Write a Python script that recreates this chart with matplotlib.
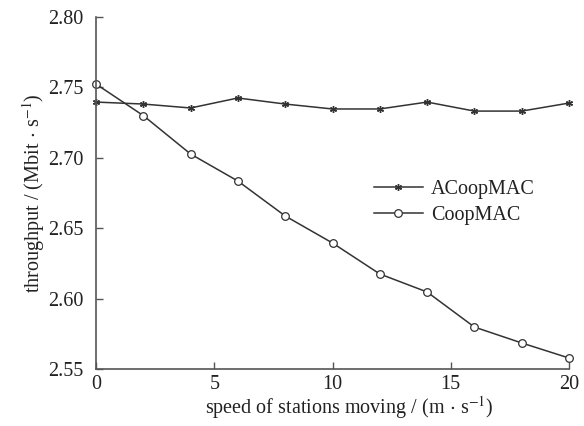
import matplotlib
matplotlib.use("Agg")
import matplotlib.pyplot as plt

plt.rcParams['font.family'] = ['Liberation Serif', 'DejaVu Serif']
plt.rcParams['mathtext.fontset'] = 'stix'

speed = [0, 2, 4, 6, 8, 10, 12, 14, 16, 18, 20]
acoopmac = [2.7396, 2.7382, 2.7354, 2.7425, 2.7382, 2.7347, 2.7347, 2.7396, 2.7332, 2.7332, 2.7389]
coopmac = [2.7524, 2.7300, 2.7027, 2.6835, 2.6587, 2.6395, 2.6175, 2.6047, 2.5798, 2.5685, 2.5578]
xticks = [0, 5, 10, 15, 20]
yticks = [2.55, 2.60, 2.65, 2.70, 2.75, 2.80]

fig = plt.figure(figsize=(5.84, 4.26), dpi=100)
ax = fig.add_axes([0.1644, 0.1338, 0.8099, 0.8262])
lc = '#333333'
ax.plot(speed, acoopmac, color=lc, lw=1.1, marker=(6, 2, 0), markersize=5,
        markeredgewidth=1.0, label='ACoopMAC', clip_on=False)
ax.plot(speed, coopmac, color=lc, lw=1.1, marker='o', markersize=5.5,
        markerfacecolor='white', markeredgewidth=0.9, label='CoopMAC', clip_on=False)

ax.set_xlim(0, 20)
ax.set_ylim(2.55, 2.80)
ax.set_xticks(xticks)
ax.set_xticklabels([str(v) for v in xticks])
ax.set_yticks(yticks)
ax.set_yticklabels([f'{v:.2f}' for v in yticks])
for s in ['top', 'right']:
    ax.spines[s].set_visible(False)
for s in ['left', 'bottom']:
    ax.spines[s].set_color('#555555')
    ax.spines[s].set_linewidth(1.2)
fs = 14.5
ax.tick_params(direction='in', length=5, width=1.0, color='#555555', labelsize=fs,
               labelcolor='#222222')
ax.tick_params(axis='y', pad=9)
ax.tick_params(axis='x', pad=4.5)
ax.set_xlabel(r'speed of stations moving / (m$\,\cdot\,$s$^{-1}$)', fontsize=fs, color='#222222')
ax.xaxis.set_label_coords(0.535, -0.07)
ax.set_ylabel(r'throughput / (Mbit$\,\cdot\,$s$^{-1}$)', fontsize=fs, color='#222222', labelpad=1)

leg = ax.legend(loc='center left', bbox_to_anchor=(0.55, 0.474), frameon=False,
                fontsize=fs, handlelength=2.4, handletextpad=0.4, labelspacing=0.35)
for t in leg.get_texts():
    t.set_color('#222222')

fig.savefig('out.png', dpi=100)
